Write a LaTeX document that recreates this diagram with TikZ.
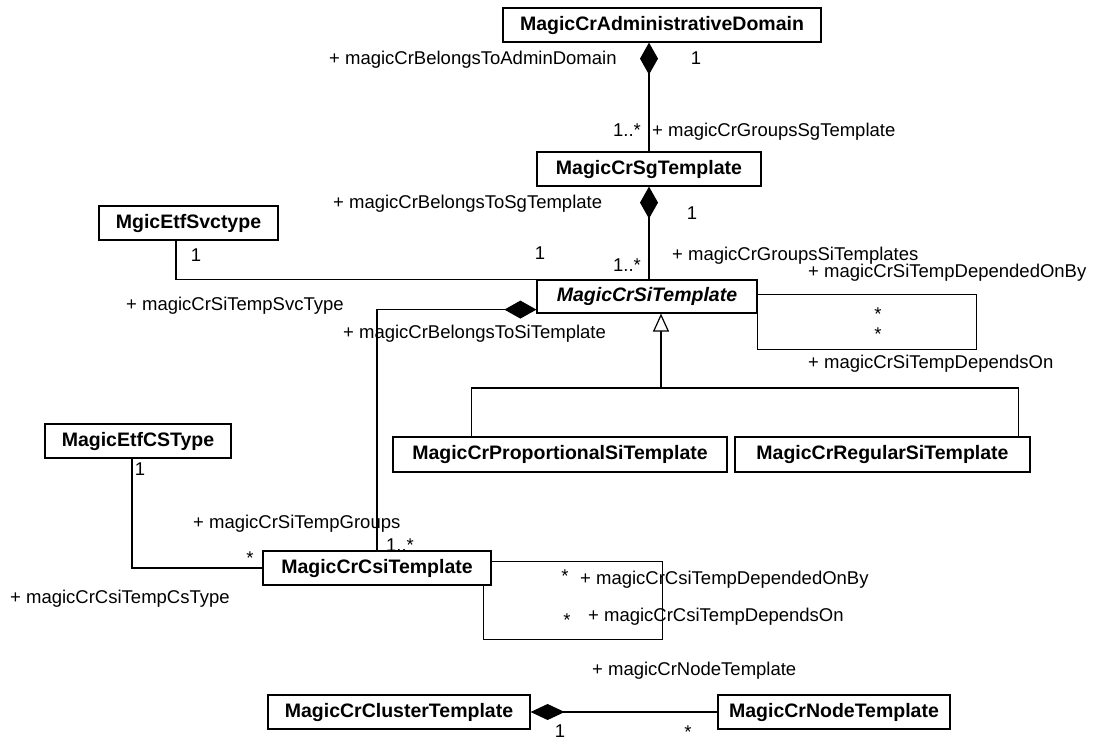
\documentclass[tikz,border=0pt]{standalone}
\usepackage{fontspec}
\setmainfont{Liberation Sans}
\usetikzlibrary{arrows.meta,calc}

\tikzset{
  cls/.style={draw, fill=white, line width=1.2pt, inner sep=0pt,
    minimum height=34pt, font=\fontsize{19.5}{22}\selectfont\bfseries},
  lbl/.style={inner sep=0pt, anchor=west, text height=0.75em, text depth=0.2em,
    font=\fontsize{18.5}{20}\selectfont},
  mul/.style={inner sep=0pt, text height=0.75em, text depth=0.2em,
    font=\fontsize{18.5}{20}\selectfont},
  many/.style={inner sep=0pt, anchor=north, text height=0.75em, text depth=0pt,
    font=\fontsize{18.5}{20}\selectfont},
  assoc/.style={line width=1.2pt},
  comp/.style={assoc, {Diamond[length=32pt, width=18pt]}-},
  compH/.style={assoc, {Diamond[length=34pt, width=16pt]}-},
  inherit/.style={assoc, {Triangle[open, length=18pt, width=16pt, fill=white]}-},
}

\begin{document}
\begin{tikzpicture}[x=1pt, y=-1pt]
  \useasboundingbox (0,0) rectangle (1096,742);

  % classes
  \node[cls, minimum width=318pt] (adm) at (662,25) {MagicCrAdministrativeDomain};
  \node[cls, minimum width=224pt] (sg) at (649,169) {MagicCrSgTemplate};
  \node[cls, minimum width=179pt] (svc) at (188.5,223) {MgicEtfSvctype};
  \node[cls, minimum width=220pt, minimum height=33pt, font=\fontsize{19.5}{22}\selectfont\bfseries\itshape] (si) at (647,296.5) {MagicCrSiTemplate};
  \node[cls, minimum width=186pt] (cstype) at (138,441) {MagicEtfCSType};
  \node[cls, minimum width=334pt, minimum height=35pt] (prop) at (560,454.5) {MagicCrProportionalSiTemplate};
  \node[cls, minimum width=295pt, minimum height=35pt] (reg) at (882.5,454.5) {MagicCrRegularSiTemplate};
  \node[cls, minimum width=228pt] (csi) at (377,568) {MagicCrCsiTemplate};
  \node[cls, minimum width=262pt] (clu) at (399,712) {MagicCrClusterTemplate};
  \node[cls, minimum width=232pt] (nod) at (834,712) {MagicCrNodeTemplate};

  % administrative domain groups service group templates
  \draw[comp] (sg.north |- adm.south) -- (sg.north);
  % service group template groups service instance templates
  \draw[comp] (sg.south) -- (sg.south |- si.north);
  % service type of a service instance template
  \draw[assoc] ($(svc.south)+(-12.5,0)$) |- (si.north west);
  % dependencies between service instance templates
  \draw[assoc] ($(si.north east)+(0,15)$) -- ++(219,0) |- ($(si.south east)+(0,36)$) -- (si.south east);
  % service instance template groups CSI templates
  \draw[comp] ($(si.south west)+(0,-4)$) -| (csi.north);
  % specialisations of the service instance template
  \coordinate (gen) at (661,388);
  \draw[inherit] ($(si.south)+(14,0)$) -- (gen);
  \draw[assoc] ($(prop.north west)+(79,0)$) |- (gen) -| ($(reg.north east)+(-12,0)$);
  % CS type of a CSI template
  \draw[assoc] ($(cstype.south)+(-6,0)$) |- (csi.west);
  % dependencies between CSI templates
  \draw[assoc] ($(csi.north east)+(0,11)$) -- ++(171,0) |- ($(csi.south east)+(-8,54)$) -- ($(csi.south east)+(-8,0)$);
  % cluster template owns node templates
  \draw[compH] (clu.east) -- (nod.west);

  % roles and multiplicities
  \node[lbl] (l1) at (329,62) {+ magicCrBelongsToAdminDomain};
  \node[mul] (m1) at (696,62) {1};
  \node[mul] (m2) at (627,134) {1..*};
  \node[lbl] (l2) at (652,134) {+ magicCrGroupsSgTemplate};
  \node[lbl] (l3) at (333,206) {+ magicCrBelongsToSgTemplate};
  \node[mul] (m3) at (692,217) {1};
  \node[mul] (m4) at (540,257) {1};
  \node[mul] (m5) at (196,259) {1};
  \node[mul] (m6) at (627,269) {1..*};
  \node[lbl] (l4) at (672,258) {+ magicCrGroupsSiTemplates};
  \node[lbl] (l5) at (808,275) {+ magicCrSiTempDependedOnBy};
  \node[lbl] (l6) at (126,308) {+ magicCrSiTempSvcType};
  \node[lbl] (l7) at (343,336) {+ magicCrBelongsToSiTemplate};
  \node[many] (m7) at (878,313) {*};
  \node[many] (m8) at (878,333) {*};
  \node[lbl] (l8) at (808,366) {+ magicCrSiTempDependsOn};
  \node[mul] (m9) at (140,473) {1};
  \node[lbl] (l9) at (193,526) {+ magicCrSiTempGroups};
  \node[mul] (m10) at (400,549) {1..*};
  \node[many] (m11) at (250,557) {*};
  \node[many] (m12) at (565,575) {*};
  \node[lbl] (l10) at (580,582) {+ magicCrCsiTempDependedOnBy};
  \node[many] (m13) at (567,619) {*};
  \node[lbl] (l11) at (588,619) {+ magicCrCsiTempDependsOn};
  \node[lbl] (l12) at (10,601) {+ magicCrCsiTempCsType};
  \node[lbl] (l13) at (592,673) {+ magicCrNodeTemplate};
  \node[mul] (m14) at (560,735) {1};
  \node[many] (m15) at (688,731) {*};
\end{tikzpicture}
\end{document}
